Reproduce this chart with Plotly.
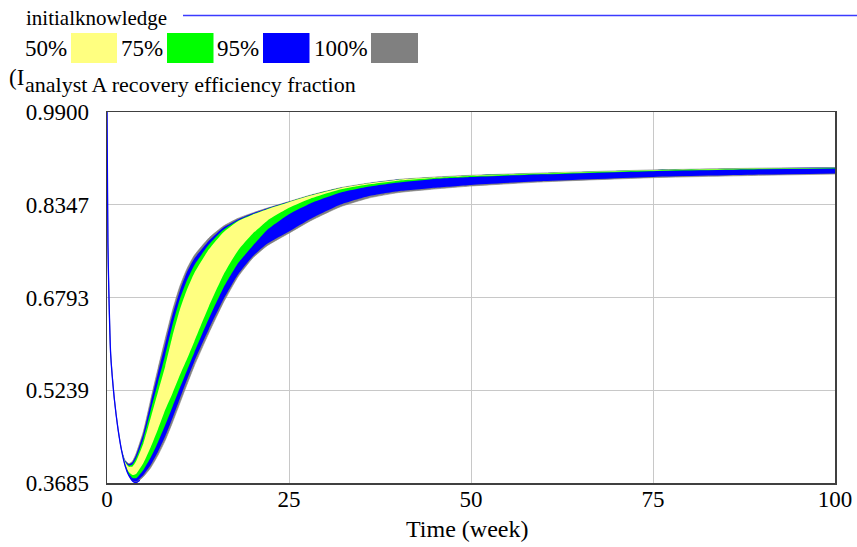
import plotly.graph_objects as go

# ---- data ----
time_week = [0, 0.125, 0.25, 0.5, 1, 1.5, 2, 2.5, 3, 3.5, 4, 5, 6, 7, 8, 9, 10, 11, 12,
             14, 16, 18, 20, 22, 25, 28, 32, 36, 40, 45, 50, 60, 75, 90, 100]

p100_hi = [0.990, 0.770, 0.690, 0.585, 0.510, 0.460, 0.424, 0.406, 0.401, 0.405, 0.418,
           0.455, 0.508, 0.560, 0.610, 0.658, 0.698, 0.728, 0.750, 0.779, 0.799, 0.812,
           0.821, 0.829, 0.840, 0.851, 0.863, 0.871, 0.877, 0.881, 0.884, 0.888, 0.893,
           0.896, 0.897]
p95_hi = [0.990, 0.770, 0.690, 0.585, 0.510, 0.460, 0.424, 0.4056, 0.4000, 0.4034, 0.4156,
          0.4512, 0.5023, 0.5528, 0.6015, 0.6505, 0.6902, 0.7222, 0.7445, 0.7742, 0.7964,
          0.8100, 0.8202, 0.8284, 0.8395, 0.8506, 0.8627, 0.8708, 0.8768, 0.8808, 0.8838,
          0.8879, 0.8929, 0.8959, 0.8969]
p75_hi = [0.990, 0.770, 0.690, 0.585, 0.510, 0.460, 0.424, 0.4046, 0.3978, 0.3997, 0.4102,
          0.4428, 0.4898, 0.5368, 0.5828, 0.6336, 0.6764, 0.7086, 0.7334, 0.7679, 0.7926,
          0.8081, 0.8187, 0.8277, 0.8392, 0.8504, 0.8625, 0.8706, 0.8767, 0.8807, 0.8837,
          0.8878, 0.8928, 0.8958, 0.8968]
p50_hi = [0.990, 0.770, 0.690, 0.585, 0.510, 0.460, 0.424, 0.4036, 0.3956, 0.3961, 0.4048,
          0.4345, 0.4772, 0.5209, 0.5641, 0.6148, 0.6588, 0.6931, 0.7204, 0.7599, 0.7887,
          0.8071, 0.8180, 0.8271, 0.8389, 0.8501, 0.8624, 0.8705, 0.8766, 0.8806, 0.8836,
          0.8877, 0.8927, 0.8958, 0.8968]
p50_lo = [0.990, 0.770, 0.690, 0.585, 0.510, 0.460, 0.423, 0.3997, 0.3870, 0.3819, 0.3837,
          0.4018, 0.4282, 0.4585, 0.4910, 0.5189, 0.5490, 0.5767, 0.6057, 0.6645, 0.7174,
          0.7581, 0.7860, 0.8076, 0.8294, 0.8450, 0.8600, 0.8688, 0.8750, 0.8794, 0.8826,
          0.8868, 0.8920, 0.8950, 0.8961]
p75_lo = [0.990, 0.770, 0.690, 0.585, 0.510, 0.460, 0.423, 0.3984, 0.3840, 0.3770, 0.3764,
          0.3904, 0.4111, 0.4368, 0.4655, 0.4963, 0.5275, 0.5573, 0.5872, 0.6439, 0.6955,
          0.7365, 0.7655, 0.7925, 0.8188, 0.8372, 0.8546, 0.8650, 0.8719, 0.8778, 0.8811,
          0.8856, 0.8909, 0.8941, 0.8952]
p95_lo = [0.990, 0.770, 0.690, 0.585, 0.510, 0.460, 0.423, 0.3974, 0.3818, 0.3733, 0.3710,
          0.3820, 0.3986, 0.4208, 0.4468, 0.4775, 0.5098, 0.5418, 0.5724, 0.6264, 0.6762,
          0.7179, 0.7480, 0.7692, 0.7897, 0.8110, 0.8345, 0.8492, 0.8572, 0.8630, 0.8678,
          0.8745, 0.8813, 0.8852, 0.8871]
p100_lo = [0.990, 0.770, 0.690, 0.585, 0.510, 0.460, 0.423, 0.397, 0.381, 0.372, 0.369,
           0.379, 0.394, 0.415, 0.440, 0.470, 0.502, 0.534, 0.565, 0.620, 0.671, 0.714,
           0.745, 0.766, 0.787, 0.808, 0.831, 0.846, 0.855, 0.861, 0.866, 0.873, 0.880,
           0.884, 0.886]
# the single "initialknowledge" run; only its early part shows outside the bands
base_time = [0, 0.125, 0.25, 0.5, 1, 1.5, 2, 2.5, 3, 3.5, 4, 4.5]
base_run = [0.990, 0.770, 0.690, 0.585, 0.510, 0.460, 0.423, 0.397, 0.381, 0.372, 0.369,
            0.373]

y_ticks = [0.3685, 0.5239, 0.6793, 0.8347, 0.99]
y_tick_text = ["0.3685", "0.5239", "0.6793", "0.8347", "0.9900"]
x_ticks = [0, 25, 50, 75, 100]

band_labels = ["50%", "75%", "95%", "100%"]
band_colors = ["#FFFF80", "#00FF00", "#0000FF", "#808080"]

series_name = "initialknowledge"
var_title = "analyst A recovery efficiency fraction"
x_title = "Time (week)"

FONT = "Liberation Serif, Times New Roman, serif"

# figure fills the whole page (the body margin is removed by the post script)
W, H = 857, 547
PLOT_L, PLOT_R, PLOT_T, PLOT_B = 107, 835, 112, 483      # page pixels
ML, MR, MT, MB = PLOT_L, W - PLOT_R, PLOT_T, H - PLOT_B
PW, PH = W - ML - MR, H - MT - MB

fig = go.Figure()

SHAPE = dict(shape="spline", smoothing=0.5)

bands = [
    (p100_lo, p100_hi, band_colors[3], 0.6),
    (p95_lo, p95_hi, band_colors[2], 0),
    (p75_lo, p75_hi, band_colors[1], 0),
    (p50_lo, p50_hi, band_colors[0], 0),
]
for lo, hi, col, lw in bands:
    fig.add_trace(go.Scatter(x=time_week, y=lo, mode="lines",
                             line=dict(color=col, width=lw, **SHAPE), hoverinfo="skip",
                             showlegend=False))
    fig.add_trace(go.Scatter(x=time_week, y=hi, mode="lines", fill="tonexty",
                             fillcolor=col, line=dict(color=col, width=lw, **SHAPE),
                             hoverinfo="skip", showlegend=False))

fig.add_trace(go.Scatter(x=base_time, y=base_run, mode="lines",
                         line=dict(color="#0000FF", width=1.3, **SHAPE), hoverinfo="skip",
                         showlegend=False))


# page pixel -> paper coordinates (paper is the plot area)
def px(x):
    return (x - PLOT_L) / PW


def py(y):
    return (PLOT_B - y) / PH


annotations = []
shapes = []
annotations.append(dict(text=series_name, x=px(24), y=py(18), xref="paper", yref="paper",
                        xanchor="left", yanchor="middle", showarrow=False,
                        font=dict(family=FONT, size=21, color="black")))
shapes.append(dict(type="line", xref="paper", yref="paper", x0=px(183), x1=px(857),
                   y0=py(15.5), y1=py(15.5), line=dict(color="#3B3BFF", width=1.6)))

label_x = [23, 119, 215, 312]
rect_x = [(71, 117), (167, 213.5), (263, 309.5), (371, 418)]
for lab, lx, (r0, r1), col in zip(band_labels, label_x, rect_x, band_colors):
    annotations.append(dict(text=lab, x=px(lx), y=py(48), xref="paper", yref="paper",
                            xanchor="left", yanchor="middle", showarrow=False,
                            font=dict(family=FONT, size=23, color="black")))
    shapes.append(dict(type="rect", xref="paper", yref="paper", x0=px(r0), x1=px(r1),
                       y0=py(63), y1=py(33), fillcolor=col, line=dict(width=0)))

annotations.append(dict(text="(I", x=px(7), y=py(78), xref="paper", yref="paper",
                        xanchor="left", yanchor="middle", showarrow=False,
                        font=dict(family=FONT, size=23, color="black")))
annotations.append(dict(text=var_title, x=px(23), y=py(84), xref="paper", yref="paper",
                        xanchor="left", yanchor="middle", showarrow=False,
                        font=dict(family=FONT, size=22, color="black")))
annotations.append(dict(text=x_title, x=px(466.5), y=py(529), xref="paper", yref="paper",
                        xanchor="center", yanchor="middle", showarrow=False,
                        font=dict(family=FONT, size=24, color="black")))

fig.update_layout(
    width=W, height=H,
    margin=dict(l=ML, r=MR, t=MT, b=MB, autoexpand=False),
    paper_bgcolor="white", plot_bgcolor="white",
    showlegend=False,
    font=dict(family=FONT, size=22, color="black"),
    annotations=annotations, shapes=shapes,
    xaxis=dict(range=[0, 100], tickmode="array", tickvals=x_ticks,
               ticktext=[str(v) for v in x_ticks], automargin=False,
               showgrid=True, gridcolor="#C8C8C8", gridwidth=1,
               showline=True, linecolor="#404040", linewidth=1.5, mirror=True,
               zeroline=False, ticks="", ticklabelstandoff=-5,
               ticklabeloverflow="allow",
               tickfont=dict(family=FONT, size=23)),
    yaxis=dict(range=[0.3685, 0.99], tickmode="array", tickvals=y_ticks,
               ticktext=y_tick_text, automargin=False,
               showgrid=True, gridcolor="#C8C8C8", gridwidth=1,
               showline=True, linecolor="#404040", linewidth=1.5, mirror=True,
               zeroline=False, ticks="", ticklabelstandoff=12,
               tickfont=dict(family=FONT, size=23)),
)

fig.write_html("out.html",
               config={"displayModeBar": False, "staticPlot": True},
               post_script="document.body.style.margin='0';"
                           "document.body.style.overflow='hidden';")
